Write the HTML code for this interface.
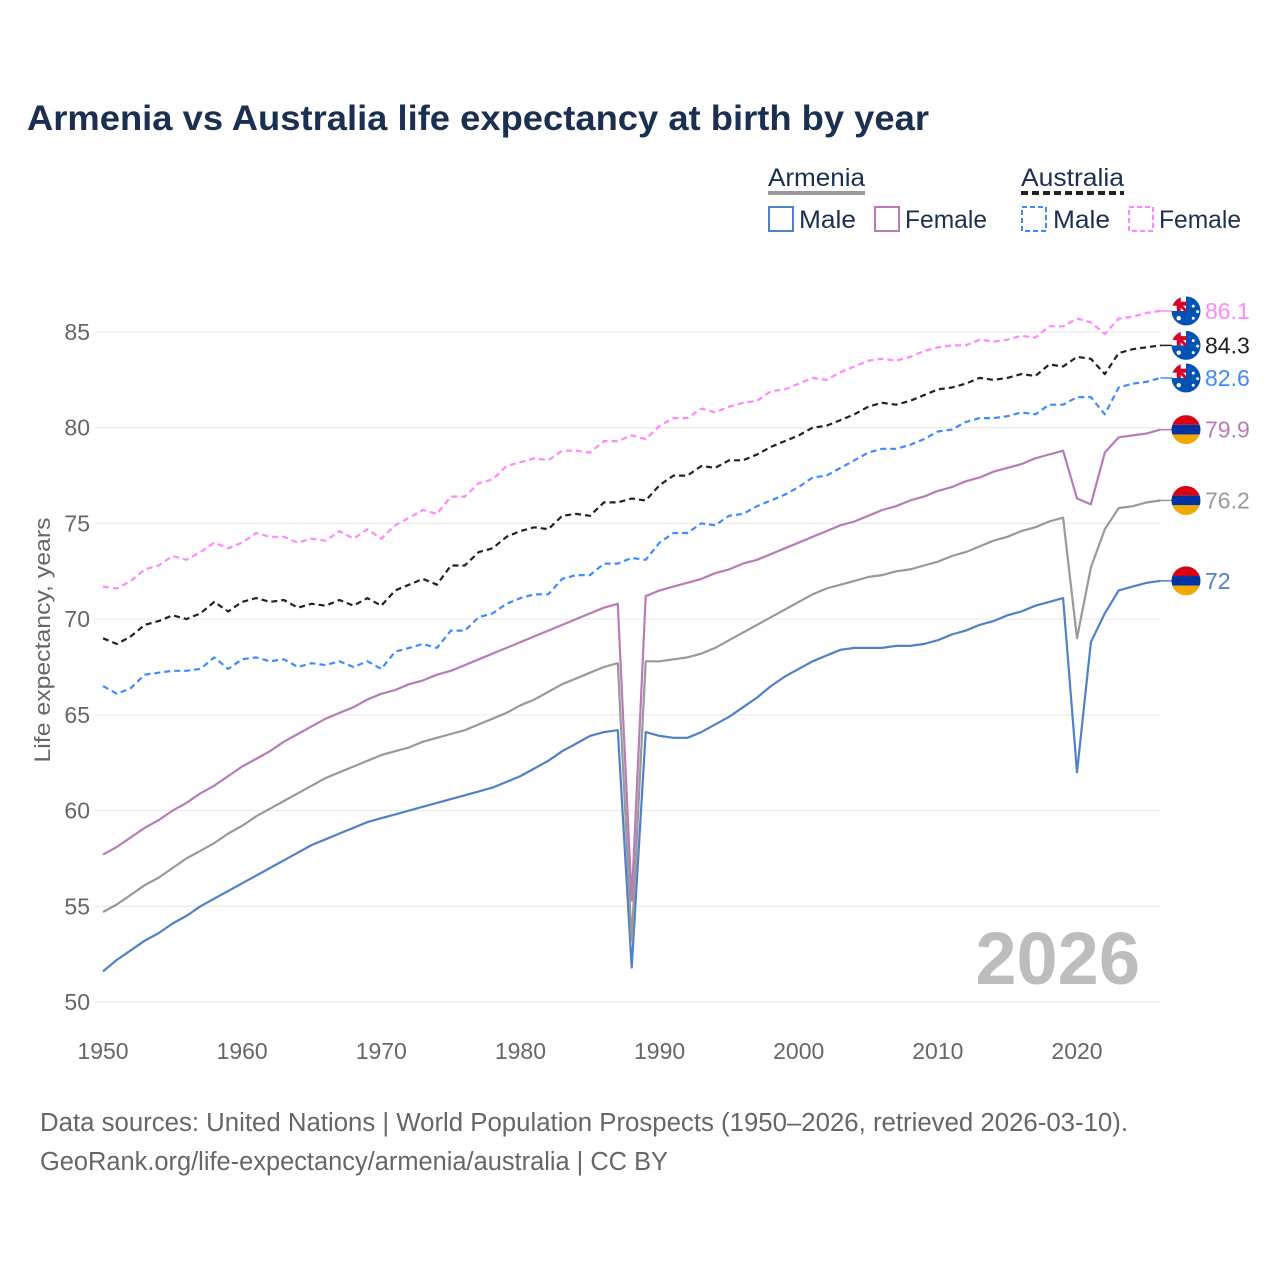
<!DOCTYPE html>
<html><head><meta charset="utf-8"><style>
body{margin:0;background:#fff;}
svg{display:block;font-family:"Liberation Sans",sans-serif;}
</style></head><body>
<svg id="chart" width="1280" height="1280" viewBox="0 0 1280 1280">
<rect width="1280" height="1280" fill="#fff"/>
<text x="27" y="130" font-size="35.5" font-weight="bold" fill="#1b2f50" textLength="902" lengthAdjust="spacingAndGlyphs">Armenia vs Australia life expectancy at birth by year</text>
<g font-size="25" fill="#1b2f50">
  <text x="768" y="186" textLength="97" lengthAdjust="spacingAndGlyphs">Armenia</text>
  <rect x="768" y="191" width="97" height="4" fill="#999"/>
  <text x="1021" y="186" textLength="103" lengthAdjust="spacingAndGlyphs">Australia</text>
  <line x1="1021" y1="193" x2="1124" y2="193" stroke="#222" stroke-width="4" stroke-dasharray="7,4"/>
  <g><rect x="769" y="207" width="24" height="24" fill="none" stroke="#5080c8" stroke-width="2"/><text x="799" y="228" textLength="57" lengthAdjust="spacingAndGlyphs">Male</text></g>
  <g><rect x="875" y="207" width="24" height="24" fill="none" stroke="#b77bb8" stroke-width="2"/><text x="905" y="228" textLength="82" lengthAdjust="spacingAndGlyphs">Female</text></g>
  <g><rect x="1022" y="207" width="24" height="24" fill="none" stroke="#3d8bff" stroke-width="2" stroke-dasharray="5,3"/><text x="1053" y="228" textLength="57" lengthAdjust="spacingAndGlyphs">Male</text></g>
  <g><rect x="1129" y="207" width="24" height="24" fill="none" stroke="#ff88ff" stroke-width="2" stroke-dasharray="5,3"/><text x="1159" y="228" textLength="82" lengthAdjust="spacingAndGlyphs">Female</text></g>
</g>
<g id="grid"></g>
<g id="axes"></g>
<text x="1140" y="984" text-anchor="end" font-size="74" font-weight="bold" fill="#bdbdbd">2026</text>
<g id="series"></g>
<g id="ends"></g>
<text transform="translate(50,640) rotate(-90)" text-anchor="middle" font-size="22" fill="#666" textLength="245" lengthAdjust="spacingAndGlyphs">Life expectancy, years</text>
<text x="40" y="1131" font-size="25.5" fill="#666" textLength="1088" lengthAdjust="spacingAndGlyphs">Data sources: United Nations | World Population Prospects (1950–2026, retrieved 2026-03-10).</text>
<text x="40" y="1170" font-size="25.5" fill="#666" textLength="628" lengthAdjust="spacingAndGlyphs">GeoRank.org/life-expectancy/armenia/australia | CC BY</text>
</svg>
<script>
const startYear = 1950;
const xTicks = [1950,1960,1970,1980,1990,2000,2010,2020];
const yTicks = [50,55,60,65,70,75,80,85];
const ausFemale = [71.7,71.6,72.0,72.6,72.8,73.3,73.1,73.5,74.0,73.7,74.0,74.5,74.3,74.3,74.0,74.2,74.1,74.6,74.2,74.7,74.2,74.9,75.3,75.7,75.5,76.4,76.4,77.1,77.3,78.0,78.2,78.4,78.3,78.8,78.8,78.7,79.3,79.3,79.6,79.4,80.1,80.5,80.5,81.0,80.8,81.1,81.3,81.4,81.9,82.0,82.3,82.6,82.5,82.9,83.2,83.5,83.6,83.5,83.7,84.0,84.2,84.3,84.3,84.6,84.5,84.6,84.8,84.7,85.3,85.3,85.7,85.5,84.9,85.7,85.8,86.0,86.1];
const ausTotal = [69.0,68.7,69.1,69.7,69.9,70.2,70.0,70.3,70.9,70.4,70.9,71.1,70.9,71.0,70.6,70.8,70.7,71.0,70.7,71.1,70.7,71.5,71.8,72.1,71.8,72.8,72.8,73.5,73.7,74.3,74.6,74.8,74.7,75.4,75.5,75.4,76.1,76.1,76.3,76.2,77.0,77.5,77.5,78.0,77.9,78.3,78.3,78.6,79.0,79.3,79.6,80.0,80.1,80.4,80.7,81.1,81.3,81.2,81.4,81.7,82.0,82.1,82.3,82.6,82.5,82.6,82.8,82.7,83.3,83.2,83.7,83.6,82.8,83.9,84.1,84.2,84.3];
const ausMale = [66.5,66.1,66.4,67.1,67.2,67.3,67.3,67.4,68.0,67.4,67.9,68.0,67.8,67.9,67.5,67.7,67.6,67.8,67.5,67.8,67.4,68.3,68.5,68.7,68.5,69.4,69.4,70.1,70.3,70.8,71.1,71.3,71.3,72.1,72.3,72.3,72.9,72.9,73.2,73.1,74.0,74.5,74.5,75.0,74.9,75.4,75.5,75.9,76.2,76.5,76.9,77.4,77.5,77.9,78.3,78.7,78.9,78.9,79.1,79.4,79.8,79.9,80.3,80.5,80.5,80.6,80.8,80.7,81.2,81.2,81.6,81.6,80.7,82.1,82.3,82.4,82.6];
const armFemale = [57.7,58.1,58.6,59.1,59.5,60.0,60.4,60.9,61.3,61.8,62.3,62.7,63.1,63.6,64.0,64.4,64.8,65.1,65.4,65.8,66.1,66.3,66.6,66.8,67.1,67.3,67.6,67.9,68.2,68.5,68.8,69.1,69.4,69.7,70.0,70.3,70.6,70.8,55.3,71.2,71.5,71.7,71.9,72.1,72.4,72.6,72.9,73.1,73.4,73.7,74.0,74.3,74.6,74.9,75.1,75.4,75.7,75.9,76.2,76.4,76.7,76.9,77.2,77.4,77.7,77.9,78.1,78.4,78.6,78.8,76.3,76.0,78.7,79.5,79.6,79.7,79.9];
const armTotal = [54.7,55.1,55.6,56.1,56.5,57.0,57.5,57.9,58.3,58.8,59.2,59.7,60.1,60.5,60.9,61.3,61.7,62.0,62.3,62.6,62.9,63.1,63.3,63.6,63.8,64.0,64.2,64.5,64.8,65.1,65.5,65.8,66.2,66.6,66.9,67.2,67.5,67.7,53.2,67.8,67.8,67.9,68.0,68.2,68.5,68.9,69.3,69.7,70.1,70.5,70.9,71.3,71.6,71.8,72.0,72.2,72.3,72.5,72.6,72.8,73.0,73.3,73.5,73.8,74.1,74.3,74.6,74.8,75.1,75.3,69.0,72.7,74.7,75.8,75.9,76.1,76.2];
const armMale = [51.6,52.2,52.7,53.2,53.6,54.1,54.5,55.0,55.4,55.8,56.2,56.6,57.0,57.4,57.8,58.2,58.5,58.8,59.1,59.4,59.6,59.8,60.0,60.2,60.4,60.6,60.8,61.0,61.2,61.5,61.8,62.2,62.6,63.1,63.5,63.9,64.1,64.2,51.8,64.1,63.9,63.8,63.8,64.1,64.5,64.9,65.4,65.9,66.5,67.0,67.4,67.8,68.1,68.4,68.5,68.5,68.5,68.6,68.6,68.7,68.9,69.2,69.4,69.7,69.9,70.2,70.4,70.7,70.9,71.1,62.0,68.8,70.3,71.5,71.7,71.9,72.0];
const endLabels = ["86.1","84.3","82.6","79.9","76.2","72"];

const NS="http://www.w3.org/2000/svg";
const X=y=>103+(y-1950)*(1077-103)/70;
const Y=v=>1002-(v-50)*(670/35);
function mk(tag,attrs,parent){const e=document.createElementNS(NS,tag);for(const k in attrs)e.setAttribute(k,attrs[k]);parent.appendChild(e);return e;}
const grid=document.getElementById('grid'),axes=document.getElementById('axes'),ser=document.getElementById('series'),ends=document.getElementById('ends');
yTicks.forEach(t=>{
  const l=mk('line',{x1:95,x2:1160,y1:Y(t),y2:Y(t),stroke:'#e6e6e6','stroke-width':1},grid);
  
  
  const tx=mk('text',{x:90,y:Y(t)+8,'text-anchor':'end','font-size':23,fill:'#666'},axes);
  tx.textContent=t;
  
  
});
xTicks.forEach(t=>{
  const tx=mk('text',{x:X(t),y:1059,'text-anchor':'middle','font-size':23,fill:'#666'},axes);
  tx.textContent=t;
  
  
});
const series=[
 {d:armMale,c:'#5080c8',dash:null,n:'armenia-male',flag:'am'},
 {d:armTotal,c:'#999999',dash:null,n:'armenia-total',flag:'am'},
 {d:armFemale,c:'#b77bb8',dash:null,n:'armenia-female',flag:'am'},
 {d:ausMale,c:'#3d8bff',dash:'6,4',n:'australia-male',flag:'au'},
 {d:ausTotal,c:'#222222',dash:'6,4',n:'australia-total',flag:'au'},
 {d:ausFemale,c:'#ff88ff',dash:'6,4',n:'australia-female',flag:'au'}
];
const labelOrder={ 'australia-female':0,'australia-total':1,'australia-male':2,'armenia-female':3,'armenia-total':4,'armenia-male':5};
series.forEach(s=>{
  const pts=s.d.map((v,i)=>X(startYear+i).toFixed(1)+','+Y(v).toFixed(1)).join(' ');
  const a={points:pts,fill:'none',stroke:s.c,'stroke-width':2.2,'stroke-linejoin':'round'};
  if(s.dash)a['stroke-dasharray']=s.dash;
  const p=mk('polyline',a,ser);
  
  
  const last=s.d[s.d.length-1], yy=Y(last), xe=X(startYear+s.d.length-1);
  mk('line',{x1:xe,x2:1172,y1:yy,y2:yy,stroke:s.c,'stroke-width':1.5},ends);
  const g=mk('g',{},ends);
  
  
  const cx=1186,r=14.5;
  const cid='clip-'+s.n;
  const cp=mk('clipPath',{id:cid},g);mk('circle',{cx:cx,cy:yy,r:r},cp);
  const fg=mk('g',{'clip-path':'url(#'+cid+')'},g);
  if(s.flag==='am'){
    mk('rect',{x:cx-r,y:yy-r,width:2*r,height:2*r/3,fill:'#d90012'},fg);
    mk('rect',{x:cx-r,y:yy-r/3,width:2*r,height:2*r/3,fill:'#0033a0'},fg);
    mk('rect',{x:cx-r,y:yy+r/3,width:2*r,height:2*r/3,fill:'#f2a800'},fg);
  }else{
    mk('rect',{x:cx-r,y:yy-r,width:2*r,height:2*r,fill:'#0052b4'},fg);
    mk('rect',{x:cx-r,y:yy-r,width:r,height:r,fill:'#fff'},fg);
    mk('line',{x1:cx-r,y1:yy-r,x2:cx,y2:yy,stroke:'#d80027','stroke-width':3},fg);
    mk('rect',{x:cx-r,y:yy-r/2-2,width:r,height:4,fill:'#d80027'},fg);
    mk('rect',{x:cx-r/2-2,y:yy-r,width:4,height:r,fill:'#d80027'},fg);
    mk('circle',{cx:cx-r/2,cy:yy+r/2,r:2.2,fill:'#fff'},fg);
    mk('circle',{cx:cx+r/2,cy:yy-r/3,r:1.5,fill:'#fff'},fg);
    mk('circle',{cx:cx+r/2,cy:yy+r/2,r:1.5,fill:'#fff'},fg);
    mk('circle',{cx:cx+r*0.8,cy:yy+r*0.05,r:1.5,fill:'#fff'},fg);
  }
  const t=mk('text',{x:1205,y:yy+8,'font-size':23,fill:s.c},ends);
  t.textContent=endLabels[labelOrder[s.n]];
  
  
});
</script>
</body></html>
